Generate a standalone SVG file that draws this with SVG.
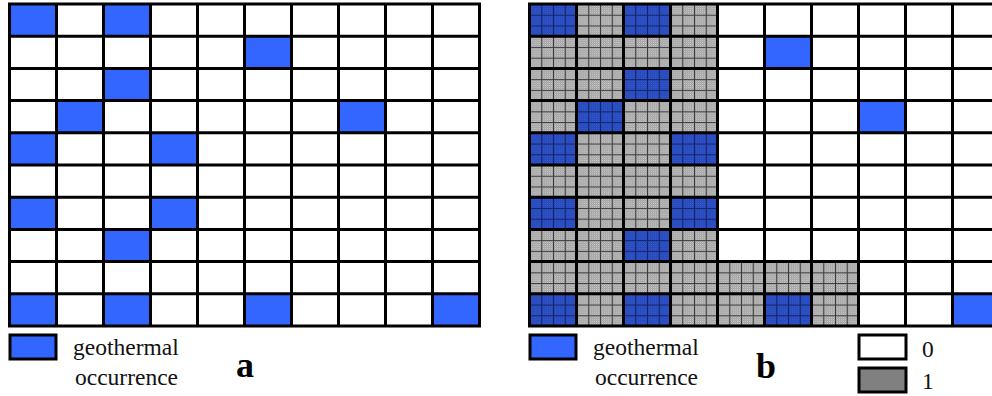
<svg xmlns="http://www.w3.org/2000/svg" width="992" height="396" viewBox="0 0 992 396">
<style>
.grid{fill:none;stroke:#000;stroke-width:3;stroke-linecap:square}
.blue{fill:#3366ff}
.hb{fill:url(#hatchB)}
.hg{fill:url(#hatchG)}
.lbl{font-family:"Liberation Serif","Times New Roman",serif;font-size:23.5px;fill:#111}
.big{font-family:"Liberation Serif","Times New Roman",serif;font-size:36px;font-weight:bold;fill:#000}
.key{stroke:#000;stroke-width:3}
</style>
<defs>
<pattern id="chkG" patternUnits="userSpaceOnUse" width="2" height="2">
<rect width="2" height="2" fill="#8e8e8e"/>
<rect width="1" height="1" fill="#d6d6d6"/>
<rect x="1" y="1" width="1" height="1" fill="#c4c4c4"/>
</pattern>
<pattern id="chkB" patternUnits="userSpaceOnUse" width="2" height="2">
<rect width="2" height="2" fill="#1f3fae"/>
<rect width="1" height="1" fill="#3a60d8"/>
<rect x="1" y="1" width="1" height="1" fill="#2e52c8"/>
</pattern>
<pattern id="hatchG" patternUnits="userSpaceOnUse" x="529.5" y="4" width="11.75" height="10.733">
<rect width="11.75" height="10.733" fill="url(#chkG)"/>
<path d="M0 0.5H11.75M0.5 0V10.733" stroke="#3c3c3c" stroke-width="1"/>
</pattern>
<pattern id="hatchB" patternUnits="userSpaceOnUse" x="529.5" y="4" width="11.75" height="10.733">
<rect width="11.75" height="10.733" fill="url(#chkB)"/>
<path d="M0 0.5H11.75M0.5 0V10.733" stroke="#142466" stroke-width="1"/>
</pattern>
</defs>
<rect width="992" height="396" fill="#fff"/>

<g id="panel-a">
<g id="a-cells">
<rect class="blue" x="9.5" y="4" width="47" height="32.2"/>
<rect class="blue" x="103.5" y="4" width="47" height="32.2"/>
<rect class="blue" x="244.5" y="36.2" width="47" height="32.2"/>
<rect class="blue" x="103.5" y="68.4" width="47" height="32.2"/>
<rect class="blue" x="56.5" y="100.6" width="47" height="32.2"/>
<rect class="blue" x="338.5" y="100.6" width="47" height="32.2"/>
<rect class="blue" x="9.5" y="132.8" width="47" height="32.2"/>
<rect class="blue" x="150.5" y="132.8" width="47" height="32.2"/>
<rect class="blue" x="9.5" y="197.2" width="47" height="32.2"/>
<rect class="blue" x="150.5" y="197.2" width="47" height="32.2"/>
<rect class="blue" x="103.5" y="229.4" width="47" height="32.2"/>
<rect class="blue" x="9.5" y="293.8" width="47" height="32.2"/>
<rect class="blue" x="103.5" y="293.8" width="47" height="32.2"/>
<rect class="blue" x="244.5" y="293.8" width="47" height="32.2"/>
<rect class="blue" x="432.5" y="293.8" width="47" height="32.2"/>
</g>
<path class="grid" d="M9.5 4V326M56.5 4V326M103.5 4V326M150.5 4V326M197.5 4V326M244.5 4V326M291.5 4V326M338.5 4V326M385.5 4V326M432.5 4V326M479.5 4V326
M9.5 4H479.5M9.5 36.2H479.5M9.5 68.4H479.5M9.5 100.6H479.5M9.5 132.8H479.5M9.5 165H479.5M9.5 197.2H479.5M9.5 229.4H479.5M9.5 261.6H479.5M9.5 293.8H479.5M9.5 326H479.5"/>
</g>

<g id="legend-a">
<rect class="blue key" x="10" y="335" width="46" height="24"/>
<text class="lbl" x="73" y="355">geothermal</text>
<text class="lbl" x="75" y="385">occurrence</text>
<text class="big" x="236" y="377">a</text>
</g>

<g id="panel-b">
<g id="b-cells">
<rect class="hg" x="529.5" y="4" width="188" height="322"/>
<rect class="hg" x="717.5" y="261.6" width="141" height="64.4"/>
<rect class="hb" x="529.5" y="4" width="47" height="32.2"/>
<rect class="hb" x="623.5" y="4" width="47" height="32.2"/>
<rect class="hb" x="623.5" y="68.4" width="47" height="32.2"/>
<rect class="hb" x="576.5" y="100.6" width="47" height="32.2"/>
<rect class="hb" x="529.5" y="132.8" width="47" height="32.2"/>
<rect class="hb" x="670.5" y="132.8" width="47" height="32.2"/>
<rect class="hb" x="529.5" y="197.2" width="47" height="32.2"/>
<rect class="hb" x="670.5" y="197.2" width="47" height="32.2"/>
<rect class="hb" x="623.5" y="229.4" width="47" height="32.2"/>
<rect class="hb" x="529.5" y="293.8" width="47" height="32.2"/>
<rect class="hb" x="623.5" y="293.8" width="47" height="32.2"/>
<rect class="hb" x="764.5" y="293.8" width="47" height="32.2"/>
<rect class="blue" x="764.5" y="36.2" width="47" height="32.2"/>
<rect class="blue" x="858.5" y="100.6" width="47" height="32.2"/>
<rect class="blue" x="952.5" y="293.8" width="47" height="32.2"/>
</g>
<path class="grid" d="M529.5 4V326M576.5 4V326M623.5 4V326M670.5 4V326M717.5 4V326M764.5 4V326M811.5 4V326M858.5 4V326M905.5 4V326M952.5 4V326
M529.5 4H999M529.5 36.2H999M529.5 68.4H999M529.5 100.6H999M529.5 132.8H999M529.5 165H999M529.5 197.2H999M529.5 229.4H999M529.5 261.6H999M529.5 293.8H999M529.5 326H999"/>
</g>

<g id="legend-b">
<rect class="blue key" x="530" y="335" width="46" height="24"/>
<text class="lbl" x="593" y="355">geothermal</text>
<text class="lbl" x="595" y="385">occurrence</text>
<text class="big" x="756" y="378">b</text>
<rect class="key" x="859" y="335" width="47" height="24" fill="#fff"/>
<text class="lbl" x="922" y="357">0</text>
<rect class="key" x="859" y="368" width="47" height="24" fill="#808080"/>
<text class="lbl" x="922" y="389">1</text>
</g>
</svg>
